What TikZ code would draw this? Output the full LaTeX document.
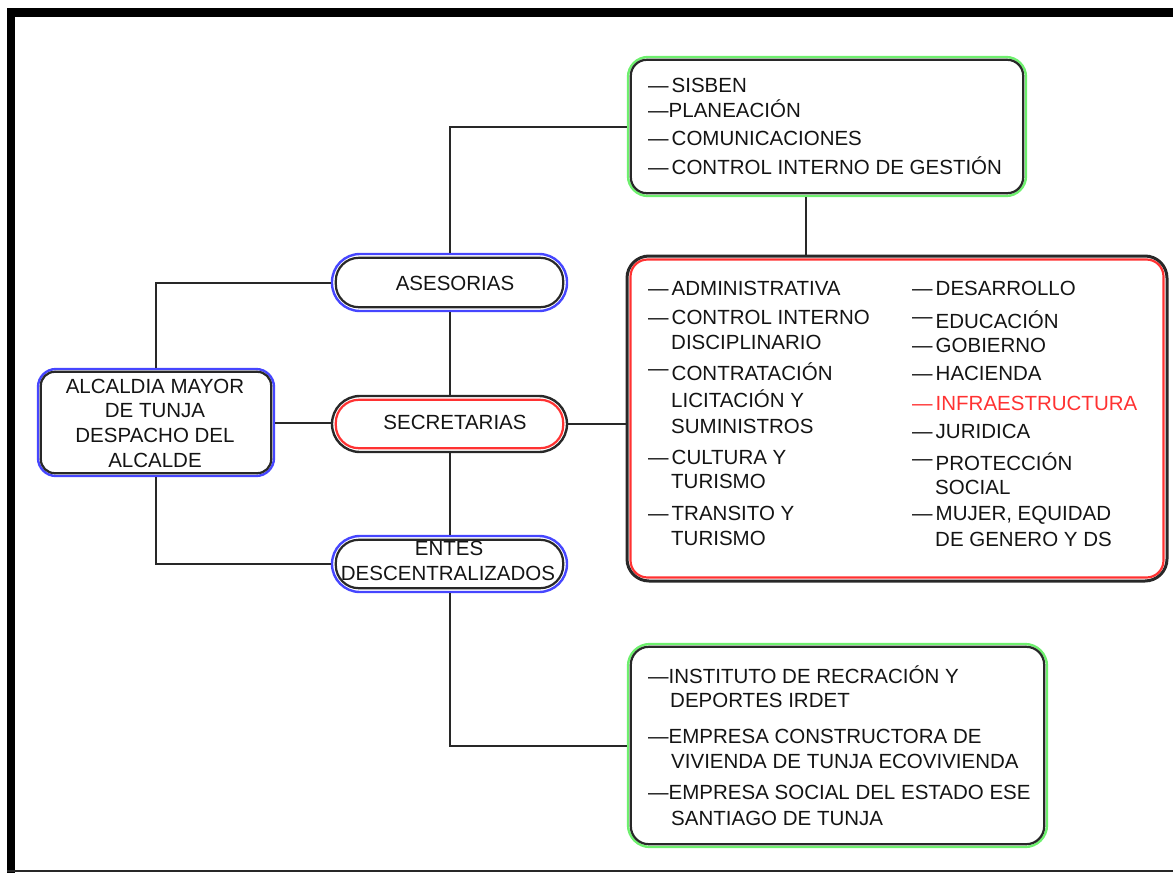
\documentclass[tikz,border=0pt]{standalone}
\usepackage{fontspec}
\setmainfont{Liberation Sans}
\definecolor{bblue}{RGB}{70,70,255}
\definecolor{bgreen}{RGB}{110,240,110}
\definecolor{bred}{RGB}{255,50,50}
\definecolor{ln}{RGB}{40,40,40}
\newcommand\diafont{\fontsize{20.5}{24.5}\selectfont}
\begin{document}
\begin{tikzpicture}[x=1pt,y=-1pt,
 lbl/.style={inner sep=0pt, text height=14.7pt, text depth=0pt, font=\diafont, text=black!92},
 itm/.style={lbl, anchor=west},
 conn/.style={draw=ln, line width=2pt},
 outerbox/.style={draw=#1, line width=2.4pt, inner sep=0pt},
 innerbox/.style={draw=#1, line width=2.2pt},
]
\useasboundingbox (0,0) rectangle (1173,873);
% frame
\fill[black] (7,8) rectangle (15,873);
\fill[black] (7,8) rectangle (1173,17);
\draw[ln, line width=1.8pt] (7,871) -- (1173,871);

% boxes
\node[outerbox=bblue, rounded corners=18pt, minimum width=236pt, minimum height=107pt] (alc) at (156,422.5) {};
\draw[innerbox=ln, rounded corners=14pt] ([xshift=4pt,yshift=-4pt]alc.north west) rectangle ([xshift=-4pt,yshift=4pt]alc.south east);

\node[outerbox=bblue, rounded corners=28pt, minimum width=235pt, minimum height=57pt] (ases) at (449.5,282.5) {};
\draw[innerbox=ln, rounded corners=23pt] ([xshift=5pt,yshift=-5pt]ases.north west) rectangle ([xshift=-5pt,yshift=5pt]ases.south east);

\node[outerbox=ln, rounded corners=28pt, minimum width=235pt, minimum height=56pt] (secr) at (449.5,424) {};
\draw[innerbox=bred, rounded corners=23pt] ([xshift=5pt,yshift=-5pt]secr.north west) rectangle ([xshift=-5pt,yshift=5pt]secr.south east);

\node[outerbox=bblue, rounded corners=28pt, minimum width=235pt, minimum height=56pt] (entes) at (449.5,564) {};
\draw[innerbox=ln, rounded corners=23pt] ([xshift=5pt,yshift=-5pt]entes.north west) rectangle ([xshift=-5pt,yshift=5pt]entes.south east);

\node[outerbox=bgreen, rounded corners=20pt, minimum width=398pt, minimum height=139pt] (top) at (827,126.5) {};
\draw[innerbox=ln, rounded corners=16pt] ([xshift=4pt,yshift=-4pt]top.north west) rectangle ([xshift=-4pt,yshift=4pt]top.south east);

\node[outerbox=ln, line width=3pt, rounded corners=22pt, minimum width=540pt, minimum height=325pt] (red) at (897,418.5) {};
\draw[innerbox=bred, rounded corners=17pt] ([xshift=5pt,yshift=-5pt]red.north west) rectangle ([xshift=-5pt,yshift=5pt]red.south east);

\node[outerbox=bgreen, rounded corners=22pt, minimum width=419pt, minimum height=203pt] (bot) at (837.5,745.5) {};
\draw[innerbox=ln, rounded corners=18pt] ([xshift=4pt,yshift=-4pt]bot.north west) rectangle ([xshift=-4pt,yshift=4pt]bot.south east);

% connectors
\coordinate (tj) at (806,200);
\draw[conn] (ases.west) -| (alc.north);
\draw[conn] (entes.west) -| (alc.south);
\draw[conn] (alc.east) -- (alc.east -| secr.west);
\draw[conn] (ases.north) |- (top.west);
\draw[conn] (ases.south) -- (secr.north);
\draw[conn] (secr.south) -- (entes.north);
\draw[conn] (entes.south) |- (bot.west);
\draw[conn] (secr.east) -- (secr.east -| red.west);
\draw[conn] (top.south -| tj) -- (red.north -| tj);

% central labels
\node[lbl] (alc1) at (155,386) {ALCALDIA MAYOR};
\node[lbl] (alc2) at (155,410) {DE TUNJA};
\node[lbl] (alc3) at (155,435) {DESPACHO DEL};
\node[lbl] (alc4) at (155,460) {ALCALDE};
\node[lbl] (asesT) at (455,283) {ASESORIAS};
\node[lbl] (secrT) at (455,422) {SECRETARIAS};
\node[lbl] (entes1) at (449,548) {ENTES};
\node[lbl] (entes2) at (448,573) {DESCENTRALIZADOS};

% top green list
\node[itm] (t1) at (648,85) {—\hspace{3pt}SISBEN};
\node[itm] (t2) at (648,110) {—PLANEACIÓN};
\node[itm] (t3) at (648,138) {—\hspace{3pt}COMUNICACIONES};
\node[itm] (t4) at (648,167) {—\hspace{3pt}CONTROL INTERNO DE GESTIÓN};

% secretarias list, left column
\node[itm] (l1) at (648,288) {—\hspace{3pt}ADMINISTRATIVA};
\node[itm] (l2) at (648,317) {—\hspace{3pt}CONTROL INTERNO};
\node[itm] (l3) at (671,342) {DISCIPLINARIO};
\node[itm] (l4) at (648,373) {\raisebox{5pt}{—}\hspace{3pt}CONTRATACIÓN};
\node[itm] (l5) at (671,400) {LICITACIÓN Y};
\node[itm] (l6) at (671,426) {SUMINISTROS};
\node[itm] (l7) at (648,457) {—\hspace{3pt}CULTURA Y};
\node[itm] (l8) at (671,481) {TURISMO};
\node[itm] (l9) at (648,513) {—\hspace{3pt}TRANSITO Y};
\node[itm] (l10) at (671,538) {TURISMO};

% secretarias list, right column
\node[itm] (r1) at (912,288) {—\hspace{3pt}DESARROLLO};
\node[itm] (r2) at (912,321) {\raisebox{5pt}{—}\hspace{3pt}EDUCACIÓN};
\node[itm] (r3) at (912,345) {—\hspace{3pt}GOBIERNO};
\node[itm] (r4) at (912,373) {—\hspace{3pt}HACIENDA};
\node[itm, text=bred] (r5) at (912,403) {—\hspace{3pt}INFRAESTRUCTURA};
\node[itm] (r6) at (912,431) {—\hspace{3pt}JURIDICA};
\node[itm] (r7) at (912,463) {\raisebox{5pt}{—}\hspace{3pt}PROTECCIÓN};
\node[itm] (r8) at (935,487) {SOCIAL};
\node[itm] (r9) at (912,513) {—\hspace{3pt}MUJER, EQUIDAD};
\node[itm] (r10) at (935,539) {DE GENERO Y DS};

% bottom green list
\node[itm] (b1) at (648,676) {—INSTITUTO DE RECRACIÓN Y};
\node[itm] (b2) at (670,700) {DEPORTES IRDET};
\node[itm] (b3) at (648,736) {—EMPRESA CONSTRUCTORA DE};
\node[itm] (b4) at (671,761) {VIVIENDA DE TUNJA ECOVIVIENDA};
\node[itm] (b5) at (648,792) {—EMPRESA SOCIAL DEL ESTADO ESE};
\node[itm] (b6) at (671,818) {SANTIAGO DE TUNJA};
\end{tikzpicture}
\end{document}
